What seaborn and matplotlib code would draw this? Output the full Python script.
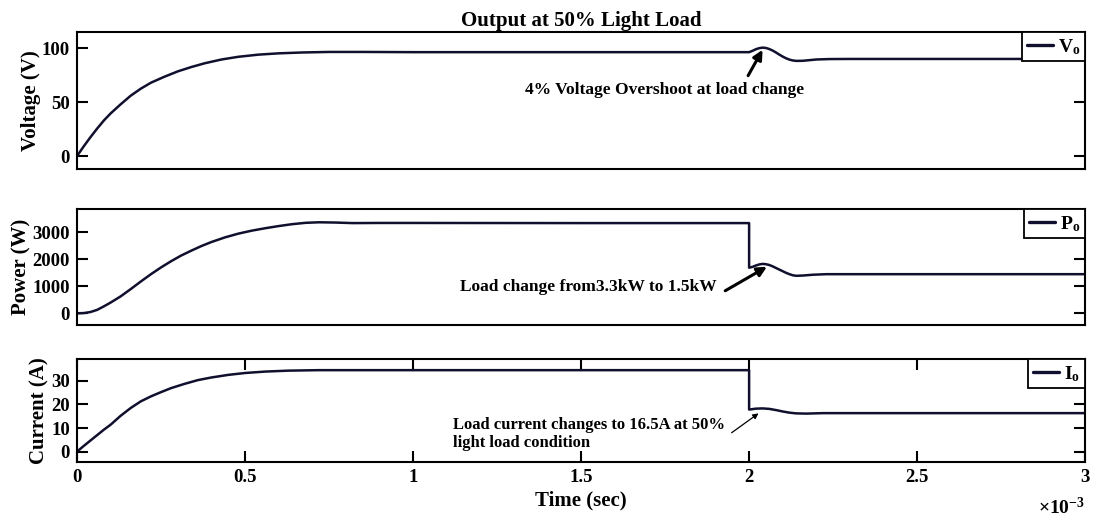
import matplotlib
matplotlib.use("Agg")
import matplotlib.pyplot as plt
import seaborn as sns
from matplotlib.ticker import FuncFormatter

# Output voltage (time in ms, volts)
volt_t = [0, 0.02, 0.04, 0.06, 0.08, 0.10, 0.13, 0.16, 0.19, 0.22, 0.26, 0.30,
          0.34, 0.38, 0.43, 0.48, 0.54, 0.60, 0.67, 0.75, 0.85, 1.0, 1.5, 2.0,
          2.01, 2.02, 2.03, 2.04, 2.05, 2.06, 2.07, 2.08, 2.09, 2.10, 2.11, 2.12,
          2.13, 2.14, 2.16, 2.18, 2.20, 2.24, 2.30, 3.0]
volt_v = [0, 9, 17.5, 25.5, 33, 39.5, 48, 56, 62.5, 68, 73.5, 78.5,
          82.5, 86, 89.5, 92, 94, 95.2, 96, 96.5, 96.5, 96.3, 96.3, 96.3,
          97.5, 99, 100, 100.5, 100.2, 99.2, 97.8, 96, 94, 92.2, 90.6, 89.4,
          88.6, 88.2, 88.3, 88.9, 89.5, 89.9, 90, 90]

# Output power (time in ms, watts)
pow_t = [0, 0.02, 0.04, 0.06, 0.08, 0.10, 0.13, 0.16, 0.19, 0.22, 0.25, 0.28,
         0.31, 0.34, 0.37, 0.40, 0.44, 0.48, 0.52, 0.56, 0.60, 0.64, 0.68, 0.72,
         0.77, 0.82, 0.90, 1.0, 1.5, 2.0, 2.0, 2.01, 2.02, 2.03, 2.04, 2.05,
         2.06, 2.07, 2.08, 2.09, 2.10, 2.11, 2.12, 2.13, 2.14, 2.16, 2.19, 2.23,
         3.0]
pow_p = [0, 10, 50, 130, 260, 400, 630, 900, 1180, 1450, 1700, 1930,
         2140, 2320, 2490, 2640, 2810, 2950, 3060, 3150, 3230, 3300, 3350, 3370,
         3360, 3340, 3345, 3345, 3340, 3340, 1690, 1720, 1770, 1810, 1830, 1820,
         1790, 1740, 1680, 1620, 1560, 1500, 1450, 1410, 1390, 1400, 1430, 1450,
         1450]

# Output current (time in ms, amperes)
cur_t = [0, 0.02, 0.04, 0.06, 0.08, 0.10, 0.13, 0.16, 0.19, 0.22, 0.25, 0.28,
         0.32, 0.36, 0.40, 0.45, 0.50, 0.56, 0.63, 0.72, 1.0, 1.5, 2.0, 2.0,
         2.02, 2.04, 2.06, 2.08, 2.10, 2.12, 2.14, 2.17, 2.22, 3.0]
cur_i = [0, 2.4, 4.7, 7, 9.3, 11.4, 15.2, 18.5, 21.3, 23.4, 25.2, 26.9,
         28.7, 30.3, 31.4, 32.5, 33.3, 33.9, 34.3, 34.5, 34.5, 34.5, 34.5, 17.8,
         18.2, 18.3, 18.1, 17.6, 17.0, 16.5, 16.2, 16.1, 16.3, 16.3]

x_ticks = [0, 0.5, 1, 1.5, 2, 2.5, 3]
volt_ticks = [0, 50, 100]
pow_ticks = [0, 1000, 2000, 3000]
cur_ticks = [0, 10, 20, 30]

sns.set_theme(style="white")
plt.rcParams.update({
    "font.family": ["Liberation Serif", "DejaVu Serif"],
    "font.weight": "bold",
    "axes.labelweight": "bold",
    "axes.titleweight": "bold",
    "text.color": "black",
    "axes.labelcolor": "black",
    "xtick.color": "black",
    "ytick.color": "black",
    "mathtext.fontset": "custom",
    "mathtext.rm": "Liberation Serif:bold",
    "mathtext.it": "Liberation Serif:italic:bold",
    "mathtext.bf": "Liberation Serif:bold",
    "axes.edgecolor": "black",
    "axes.linewidth": 1.5,
})

LINE = "#10102e"

fig = plt.figure(figsize=(10.97, 5.2), dpi=100)
left, width = 0.0702, 0.919
ax_v = fig.add_axes([left, 0.675, width, 0.2635])
ax_p = fig.add_axes([left, 0.375, width, 0.223])
ax_i = fig.add_axes([left, 0.1115, width, 0.198])

panels = [
    (ax_v, volt_t, volt_v, r"$\mathrm{V_o}$", "Voltage (V)", volt_ticks, (-12, 115)),
    (ax_p, pow_t, pow_p, r"$\mathrm{P_o}$", "Power (W)", pow_ticks, (-430, 3860)),
    (ax_i, cur_t, cur_i, r"$\mathrm{I_o}$", "Current (A)", cur_ticks, (-4.4, 39.2)),
]

for ax, t, y, lab, ylab, yt, ylim in panels:
    sns.lineplot(x=t, y=y, ax=ax, color=LINE, linewidth=1.8,
                 estimator=None, sort=False, label=lab)
    ax.set_xlim(0, 3)
    ax.set_ylim(*ylim)
    ax.set_yticks(yt)
    ax.set_xticks(x_ticks)
    ax.set_ylabel(ylab, fontsize=15, fontweight="bold", labelpad=1)
    ax.tick_params(direction="in", length=8, width=1.5, top=True, right=True,
                   bottom=True, left=True, labelsize=13.5, pad=5, colors="black")
    for s in ax.spines.values():
        s.set_linewidth(1.5)
        s.set_color("black")
    leg = ax.legend(loc="upper right", borderaxespad=0, fancybox=False,
                    framealpha=1, edgecolor="black", handlelength=1.35,
                    handletextpad=0.25, borderpad=0.25,
                    prop={"size": 14, "weight": "bold"})
    leg.get_frame().set_linewidth(1.3)
    for h in leg.get_lines():
        h.set_linewidth(2.4)

for ax in (ax_v, ax_p):
    ax.tick_params(axis="x", bottom=False, top=False, labelbottom=False)

ax_i.xaxis.set_major_formatter(FuncFormatter(lambda v, _: f"{v:g}"))
ax_i.set_xlabel("Time (sec)", fontsize=15, fontweight="bold", labelpad=3)
fig.text(0.989, 0.012, r"$\times\mathrm{10^{-3}}$", ha="right", va="baseline",
         fontsize=14)

ax_v.set_title("Output at 50% Light Load", fontsize=15, fontweight="bold", pad=4)

# Annotations
ax_v.text(1.747, 61.6, "4% Voltage Overshoot at load change", ha="center",
          va="center", fontsize=12.5, fontweight="bold")
ax_v.annotate("", xy=(2.04, 98.5), xytext=(1.997, 74.5),
              arrowprops=dict(arrowstyle="-|>", lw=2.2, color="black",
                              mutation_scale=14, shrinkA=0, shrinkB=0))

ax_p.text(1.521, 985, "Load change from3.3kW to 1.5kW", ha="center",
          va="center", fontsize=12.5, fontweight="bold")
ax_p.annotate("", xy=(2.053, 1726), xytext=(1.929, 837),
              arrowprops=dict(arrowstyle="-|>", lw=2.2, color="black",
                              mutation_scale=14, shrinkA=0, shrinkB=0))

ax_i.text(1.12, 7.5, "Load current changes to 16.5A at 50%\nlight load condition",
          ha="left", va="center", fontsize=12, fontweight="bold", linespacing=1.1)
ax_i.annotate("", xy=(2.028, 16.2), xytext=(1.948, 8.0),
              arrowprops=dict(arrowstyle="-|>", lw=0.9, color="black",
                              mutation_scale=8, shrinkA=0, shrinkB=0))

fig.savefig("out.png", dpi=100)
